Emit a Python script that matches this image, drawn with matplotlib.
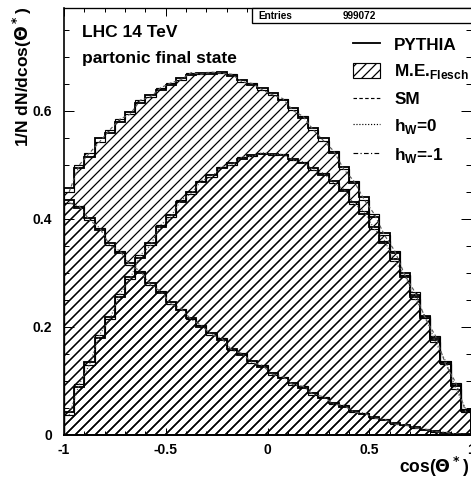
import numpy as np
import matplotlib
matplotlib.use("Agg")
import matplotlib.pyplot as plt
from matplotlib.lines import Line2D
from matplotlib.patches import Patch, Rectangle
from matplotlib.ticker import MultipleLocator

plt.rcParams["font.family"] = ["Liberation Sans", "DejaVu Sans"]
plt.rcParams["font.weight"] = "bold"
plt.rcParams["hatch.linewidth"] = 0.75

# 40 bins in cos(theta*) from -1 to 1
bin_edges = np.linspace(-1, 1, 41)

# PYTHIA histograms (solid steps)
pythia_sm = [0.457, 0.494, 0.515, 0.550, 0.559, 0.580, 0.598, 0.615, 0.630, 0.639,
             0.648, 0.661, 0.667, 0.670, 0.669, 0.672, 0.665, 0.657, 0.648, 0.642,
             0.633, 0.620, 0.605, 0.587, 0.568, 0.550, 0.522, 0.497, 0.466, 0.440,
             0.404, 0.374, 0.337, 0.300, 0.260, 0.220, 0.180, 0.135, 0.093, 0.046]
pythia_hw0 = [0.043, 0.089, 0.135, 0.180, 0.219, 0.256, 0.293, 0.328, 0.355, 0.385,
              0.407, 0.431, 0.450, 0.468, 0.481, 0.494, 0.503, 0.512, 0.518, 0.521,
              0.521, 0.518, 0.512, 0.503, 0.494, 0.482, 0.470, 0.452, 0.432, 0.410,
              0.385, 0.356, 0.326, 0.292, 0.256, 0.216, 0.176, 0.133, 0.090, 0.044]
pythia_hwm1 = [0.435, 0.420, 0.402, 0.380, 0.355, 0.337, 0.318, 0.300, 0.281, 0.263,
               0.246, 0.231, 0.217, 0.200, 0.189, 0.176, 0.160, 0.148, 0.137, 0.126,
               0.115, 0.105, 0.096, 0.087, 0.078, 0.068, 0.060, 0.052, 0.045, 0.039,
               0.033, 0.027, 0.022, 0.018, 0.014, 0.010, 0.007, 0.004, 0.002, 0.001]

# matrix element (Flesch) histograms (hatched)
me_sm = [0.450, 0.500, 0.522, 0.543, 0.565, 0.585, 0.594, 0.620, 0.626, 0.643,
         0.652, 0.658, 0.671, 0.668, 0.672, 0.670, 0.668, 0.654, 0.651, 0.639,
         0.630, 0.623, 0.601, 0.590, 0.565, 0.545, 0.526, 0.492, 0.470, 0.436,
         0.409, 0.370, 0.341, 0.296, 0.264, 0.216, 0.184, 0.131, 0.097, 0.042]
me_hw0 = [0.037, 0.094, 0.130, 0.186, 0.214, 0.261, 0.289, 0.333, 0.351, 0.389,
          0.404, 0.435, 0.447, 0.471, 0.478, 0.497, 0.500, 0.515, 0.516, 0.523,
          0.519, 0.520, 0.509, 0.506, 0.491, 0.485, 0.467, 0.455, 0.428, 0.414,
          0.381, 0.360, 0.322, 0.296, 0.252, 0.220, 0.172, 0.137, 0.086, 0.048]
me_hwm1 = [0.430, 0.424, 0.398, 0.384, 0.351, 0.341, 0.314, 0.304, 0.278, 0.266,
           0.243, 0.234, 0.214, 0.203, 0.186, 0.179, 0.157, 0.151, 0.134, 0.129,
           0.112, 0.108, 0.093, 0.090, 0.075, 0.071, 0.057, 0.055, 0.042, 0.041,
           0.031, 0.029, 0.020, 0.019, 0.013, 0.011, 0.006, 0.005, 0.002, 0.001]

entries = "999072"

W, H, DPI = 471, 477, 120
fig = plt.figure(figsize=(W / DPI, H / DPI), dpi=DPI)
ax = fig.add_axes([64 / W, 1 - 435 / H, 407 / W, 427 / H])

centers = 0.5 * (bin_edges[:-1] + bin_edges[1:])
HATCH = "////"

for vals in (me_sm, me_hw0, me_hwm1):
    ax.stairs(vals, bin_edges, fill=True, facecolor="none", edgecolor="black",
              hatch=HATCH, linewidth=0.7)
for vals in (pythia_sm, pythia_hw0, pythia_hwm1):
    ax.stairs(vals, bin_edges, color="black", linewidth=1.1)

ax.plot(centers, me_sm, color="0.35", linestyle=(0, (3, 2)), linewidth=0.7)
ax.plot(centers, me_hw0, color="0.35", linestyle=(0, (1, 1.5)), linewidth=0.7)
ax.plot(centers, me_hwm1, color="0.35", linestyle=(0, (4, 2, 1, 2)), linewidth=0.7)

ax.set_xlim(-1, 1)
ax.set_ylim(0, 427 / 540)
ax.xaxis.set_major_locator(MultipleLocator(0.5))
ax.xaxis.set_minor_locator(MultipleLocator(0.1))
ax.yaxis.set_major_locator(MultipleLocator(0.2))
ax.yaxis.set_minor_locator(MultipleLocator(0.05))
ax.xaxis.set_major_formatter(plt.FuncFormatter(lambda v, p: f"{v:g}"))
ax.yaxis.set_major_formatter(plt.FuncFormatter(lambda v, p: f"{v:g}"))
ax.tick_params(which="both", direction="in", top=True, right=True,
               labelsize=8.3, width=0.6)
ax.tick_params(axis="x", which="major", length=4.5, pad=5)
ax.tick_params(axis="x", which="minor", length=2.2)
ax.tick_params(axis="y", which="major", length=6, pad=7)
ax.tick_params(axis="y", which="minor", length=3)
ax.spines["right"].set_visible(False)
ax.spines["left"].set_linewidth(1.0)
ax.spines["bottom"].set_linewidth(1.2)
ax.spines["top"].set_linewidth(0.8)

# statistics box
ax.add_patch(Rectangle((188 / 407, (435 - 23) / 427), 0.6, 15 / 427,
                       transform=ax.transAxes, facecolor="white",
                       edgecolor="black", linewidth=0.8, clip_on=False, zorder=5))
ax.text(194 / 407, (435 - 16) / 427, "Entries", transform=ax.transAxes,
        fontsize=6, va="center", ha="left", zorder=6)
ax.text(279 / 407, (435 - 16) / 427, entries, transform=ax.transAxes,
        fontsize=6, va="center", ha="left", zorder=6)

ax.text(18 / 407, (435 - 37) / 427, "LHC 14 TeV", transform=ax.transAxes,
        fontsize=10.4, va="baseline")
ax.text(18 / 407, (435 - 63) / 427, "partonic final state", transform=ax.transAxes,
        fontsize=10.4, va="baseline")

handles = [
    Line2D([], [], color="black", linewidth=1.1),
    Patch(facecolor="none", edgecolor="black", hatch=HATCH, linewidth=0.7),
    Line2D([], [], color="black", linestyle=(0, (3, 2)), linewidth=0.7),
    Line2D([], [], color="black", linestyle=(0, (1, 1.5)), linewidth=0.7),
    Line2D([], [], color="black", linestyle=(0, (4, 2, 1, 2)), linewidth=0.7),
]
labels = ["PYTHIA", r"M.E.$_{\mathregular{Flesch}}$", "SM",
          r"h$_{\mathregular{W}}$=0", r"h$_{\mathregular{W}}$=-1"]
ax.legend(handles, labels, loc="upper left",
          bbox_to_anchor=(289 / 407, (435 - 36) / 427), frameon=False,
          fontsize=10.3, handlelength=1.6, handleheight=1.0,
          handletextpad=0.8, labelspacing=0.56, borderpad=0, borderaxespad=0)

fig.text(469 / W, 1 - 473 / H, r"cos($\Theta^*$)", ha="right", va="baseline",
         fontsize=10.5)
fig.text(22 / W, 1 - 7 / H, r"1/N dN/dcos($\Theta^*$)", rotation=90,
         ha="center", va="top", fontsize=10.4)

fig.savefig("out.png", dpi=DPI)
